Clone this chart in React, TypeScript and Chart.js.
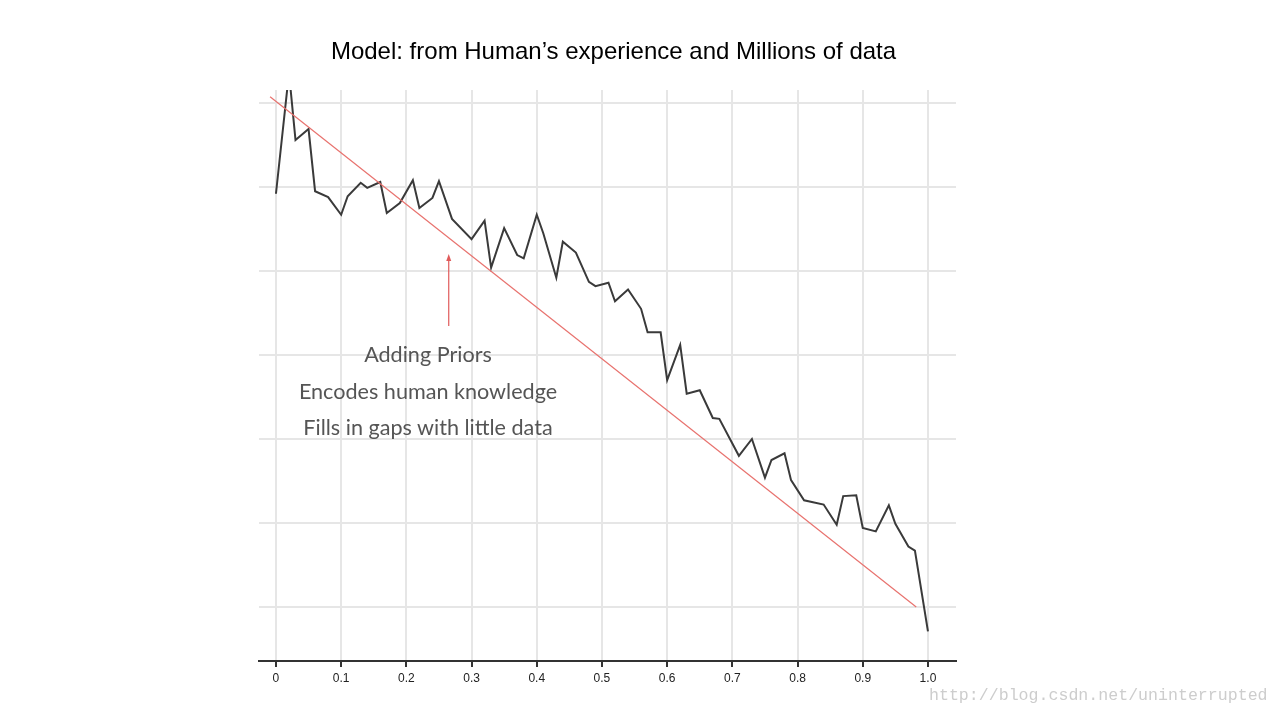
import React, { useEffect, useRef } from 'react';
import { Chart, registerables } from 'chart.js';

Chart.register(...registerables);

const titleText = 'Model: from Human’s experience and Millions of data';

const xTickValues = [0, 0.1, 0.2, 0.3, 0.4, 0.5, 0.6, 0.7, 0.8, 0.9, 1.0];
const xTickLabels = ['0', '0.1', '0.2', '0.3', '0.4', '0.5', '0.6', '0.7', '0.8', '0.9', '1.0'];
const yGridValues = [0, 1, 2, 3, 4, 5, 6];

// observed noisy curve (vertices only)
const observedX = [
  0, 0.02, 0.03, 0.05, 0.06, 0.08, 0.1, 0.11, 0.13, 0.14,
  0.16, 0.17, 0.19, 0.21, 0.22, 0.24, 0.25, 0.27, 0.3, 0.32,
  0.33, 0.35, 0.37, 0.38, 0.4, 0.41, 0.43, 0.44, 0.46, 0.48,
  0.49, 0.51, 0.52, 0.54, 0.56, 0.57, 0.59, 0.6, 0.62, 0.63,
  0.65, 0.67, 0.68, 0.71, 0.73, 0.75, 0.76, 0.78, 0.79, 0.81,
  0.84, 0.86, 0.87, 0.89, 0.9, 0.92, 0.94, 0.95, 0.97, 0.98,
  1.0,
];
const observedY = [
  4.92, 6.36, 5.56, 5.69, 4.95, 4.88, 4.67, 4.89, 5.05, 4.99,
  5.06, 4.69, 4.81, 5.08, 4.75, 4.87, 5.07, 4.62, 4.38, 4.6,
  4.04, 4.51, 4.19, 4.15, 4.67, 4.45, 3.92, 4.35, 4.22, 3.87,
  3.82, 3.86, 3.64, 3.78, 3.55, 3.27, 3.27, 2.7, 3.12, 2.54,
  2.58, 2.25, 2.24, 1.8, 2.0, 1.54, 1.75, 1.83, 1.51, 1.27,
  1.22, 0.98, 1.32, 1.33, 0.94, 0.9, 1.21, 0.99, 0.72, 0.67,
  -0.29,
];

// straight prior line
const priorX = [-0.009, 0.982];
const priorY = [6.075, 0];

// annotation arrow
const arrowX = 0.265;
const arrowFromY = 3.345;
const arrowToY = 4.19;

const annotationLines = ['Adding Priors', 'Encodes human knowledge', 'Fills in gaps with little data'];
const watermarkText = 'http://blog.csdn.net/uninterrupted';

const arrowPlugin = {
  id: 'priorArrow',
  afterDatasetsDraw(chart: any) {
    const { ctx, scales } = chart;
    const px = scales.x.getPixelForValue(arrowX);
    const yBottom = scales.y.getPixelForValue(arrowFromY);
    const yTop = scales.y.getPixelForValue(arrowToY);
    ctx.save();
    ctx.strokeStyle = '#e05a5a';
    ctx.fillStyle = '#e05a5a';
    ctx.lineWidth = 1.2;
    ctx.beginPath();
    ctx.moveTo(px, yBottom);
    ctx.lineTo(px, yTop + 4);
    ctx.stroke();
    ctx.beginPath();
    ctx.moveTo(px, yTop - 1);
    ctx.lineTo(px - 2.5, yTop + 6);
    ctx.lineTo(px + 2.5, yTop + 6);
    ctx.closePath();
    ctx.fill();
    ctx.restore();
  },
};

export default function App() {
  const canvasRef = useRef<HTMLCanvasElement | null>(null);

  useEffect(() => {
    const canvas = canvasRef.current;
    if (!canvas) return;
    const observed = observedX.map((x, i) => ({ x, y: observedY[i] }));
    const prior = priorX.map((x, i) => ({ x, y: priorY[i] }));
    const chart = new Chart(canvas, {
      type: 'line',
      data: {
        datasets: [
          {
            label: 'Prior',
            data: prior,
            borderColor: '#e8726e',
            borderWidth: 1.2,
            pointRadius: 0,
            tension: 0,
            fill: false,
          },
          {
            label: 'Observed',
            data: observed,
            borderColor: '#3a3a3a',
            borderWidth: 2,
            pointRadius: 0,
            tension: 0,
            fill: false,
          },
        ],
      },
      options: {
        animation: false,
        responsive: false,
        devicePixelRatio: 1,
        layout: { padding: { left: 259, right: 312, top: 0, bottom: 30.6 } },
        plugins: {
          legend: { display: false },
          tooltip: { enabled: false },
          title: {
            display: true,
            text: titleText,
            color: '#000',
            font: { family: 'Liberation Sans, Arial, sans-serif', size: 24, weight: 'normal' },
            padding: { top: 37.6, bottom: 23.6 },
          },
        },
        scales: {
          x: {
            type: 'linear',
            min: -0.026,
            max: 1.043,
            afterBuildTicks: (s: any) => {
              s.ticks = xTickValues.map((v) => ({ value: v }));
            },
            ticks: {
              callback: (_v: any, i: number) => xTickLabels[i],
              color: '#222',
              font: { family: 'Liberation Sans, Arial, sans-serif', size: 12 },
              autoSkip: false,
              maxRotation: 0,
              padding: 4,
            },
            grid: {
              color: '#e6e6e6',
              lineWidth: 2,
              tickColor: '#333',
              tickWidth: 2,
              tickLength: 6,
            },
            border: { color: '#333', width: 2 },
          },
          y: {
            type: 'linear',
            min: -0.643,
            max: 6.155,
            afterBuildTicks: (s: any) => {
              s.ticks = yGridValues.map((v) => ({ value: v }));
            },
            ticks: { display: false },
            grid: { color: '#e6e6e6', lineWidth: 2, drawTicks: false },
            border: { display: false },
          },
          yPad: {
            type: 'linear',
            position: 'right',
            display: true,
            ticks: { display: false },
            grid: { display: false, drawTicks: false },
            border: { display: false },
            afterFit: (s: any) => {
              s.width = 12;
            },
          },
        },
      },
      plugins: [arrowPlugin],
    } as any);
    return () => chart.destroy();
  }, []);

  return (
    <div style={{ position: 'fixed', left: 0, top: 0, width: 1280, height: 720, background: '#fff', overflow: 'hidden' }}>
      <canvas ref={canvasRef} width={1280} height={720} style={{ position: 'absolute', left: 0, top: 0, width: 1280, height: 720 }} />
      <div
        style={{
          position: 'absolute',
          left: 228,
          top: 336,
          width: 400,
          textAlign: 'center',
          fontFamily: 'Lato, "Open Sans", sans-serif',
          fontSize: 21.6,
          lineHeight: '36.5px',
          color: '#555',
        }}
      >
        {annotationLines.map((t) => (
          <div key={t}>{t}</div>
        ))}
      </div>
      <div
        style={{
          position: 'absolute',
          left: 929,
          top: 686,
          fontFamily: '"Liberation Mono", "DejaVu Sans Mono", monospace',
          fontSize: 16.6,
          lineHeight: '20px',
          color: '#cdcdcd',
          whiteSpace: 'nowrap',
        }}
      >
        {watermarkText}
      </div>
    </div>
  );
}
